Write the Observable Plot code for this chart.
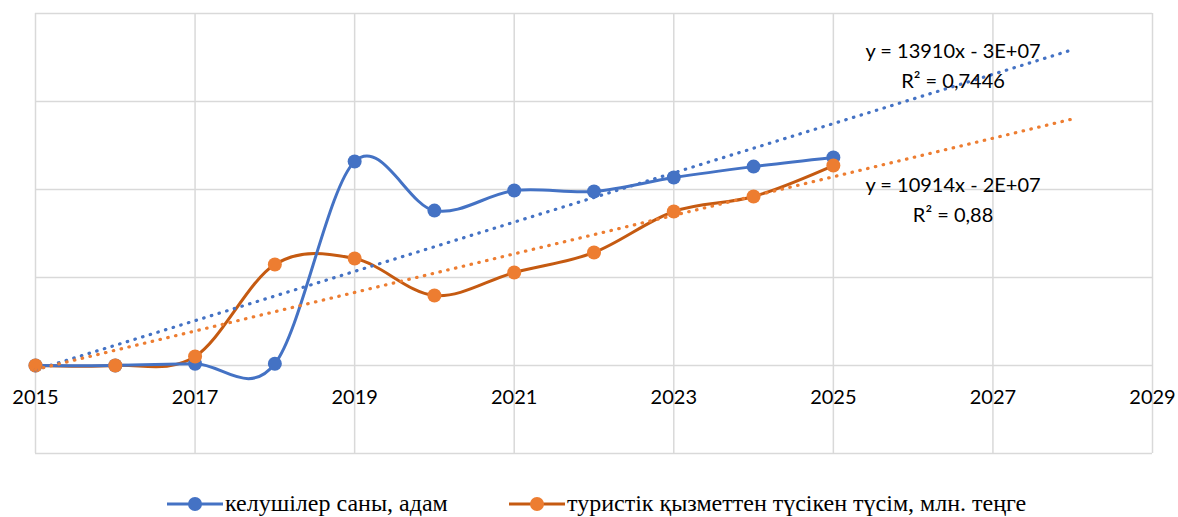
<!DOCTYPE html>
<html><head><meta charset="utf-8">
<script src="https://cdn.jsdelivr.net/npm/d3@7"></script>
<script src="https://cdn.jsdelivr.net/npm/@observablehq/plot@0.6"></script>
<style>
body{margin:0;background:#fff;overflow:hidden;}
#chart svg{display:block;}
#legend{position:relative;height:47px;font-family:"Liberation Serif","Times New Roman",serif;font-size:24px;color:#000;}
.item{position:absolute;top:0;height:47px;display:flex;align-items:center;white-space:nowrap;}
.item svg{margin-right:2px;}
</style></head><body>
<div id="chart"></div>
<div id="legend"></div>
<script>
const years = [2015, 2016, 2017, 2018, 2019, 2020, 2021, 2022, 2023, 2024, 2025];
const arrivals = [0, 0, 1000, 1000, 115900, 88000, 99400, 98900, 106800, 113000, 118200];
const revenue = [0, 0, 5100, 57400, 60800, 39800, 52800, 64200, 87500, 96000, 113600];
const xTicks = [2015, 2017, 2019, 2021, 2023, 2025, 2027, 2029];
const yGrid = [-50000, 0, 50000, 100000, 150000, 200000];
const seriesNames = ["келушілер саны, адам", "туристік қызметтен түсікен түсім, млн. теңге"];
const trendLabels = ["y = 13910x - 3E+07\nR² = 0,7446", "y = 10914x - 2E+07\nR² = 0,88"];
const forecastEnd = 2028;
const labelYear = 2026.5;

const lineColors = ["#4472C4", "#C55A11"];
const markerColors = ["#4472C4", "#ED7D31"];
const trendColors = ["#4472C4", "#ED7D31"];
const legendLefts = [167, 509];

function regress(xs, ys) {
  const mx = d3.mean(xs), my = d3.mean(ys);
  let sxy = 0, sxx = 0;
  xs.forEach((x, i) => { sxy += (x - mx) * (ys[i] - my); sxx += (x - mx) ** 2; });
  const b = sxy / sxx;
  return x => my + b * (x - mx);
}
const series = [arrivals, revenue].map((vals, i) => ({
  data: years.map((y, j) => ({x: y, y: vals[j]})),
  f: regress(years, vals)
}));
const trendData = s => [years[0], forecastEnd].map(x => ({x, y: s.f(x)}));

const marks = [
  Plot.ruleX(xTicks, {x: d => d, stroke: "#d9d9d9", strokeWidth: 1.5}),
  Plot.ruleY(yGrid, {y: d => d, stroke: "#d9d9d9", strokeWidth: 1.5}),
  Plot.text(xTicks, {x: d => d, y: () => 0, dy: 32, text: d => String(d), fill: "#000", fontSize: 20}),
];
[1, 0].forEach(i => marks.push(Plot.line(series[i].data, {x: "x", y: "y", stroke: lineColors[i], strokeWidth: 3, curve: "cardinal"})));
[0, 1].forEach(i => marks.push(Plot.dot(series[i].data, {x: "x", y: "y", r: 7, fill: markerColors[i], stroke: "none"})));
[0, 1].forEach(i => marks.push(Plot.line(trendData(series[i]), {x: "x", y: "y", stroke: trendColors[i], strokeWidth: 3.2, strokeDasharray: "0.5 7.5", strokeLinecap: "round"})));
const dys = [-23, 50];
[0, 1].forEach(i => marks.push(Plot.text([labelYear], {x: d => d, y: d => series[i].f(d), dy: dys[i], text: () => trendLabels[i], lineHeight: 1.5, fill: "#000", fontSize: 20})));

const chart = Plot.plot({
  width: 1178, height: 480,
  marginLeft: 35, marginRight: 26, marginTop: 13, marginBottom: 27,
  x: {domain: [2015, 2029], axis: null},
  y: {domain: [-50000, 200000], axis: null},
  style: {fontFamily: "Lato, sans-serif", fontSize: "20px", background: "#fff"},
  marks
});
document.getElementById("chart").appendChild(chart);

const legend = document.getElementById("legend");
seriesNames.forEach((name, i) => {
  const item = document.createElement("div");
  item.className = "item";
  item.style.left = legendLefts[i] + "px";
  item.innerHTML = `<svg width="56" height="20"><line x1="0" y1="10" x2="56" y2="10" stroke="${lineColors[i]}" stroke-width="3"/><circle cx="28" cy="10" r="7" fill="${markerColors[i]}"/></svg><span>${name}</span>`;
  legend.appendChild(item);
});
</script>
</body></html>
